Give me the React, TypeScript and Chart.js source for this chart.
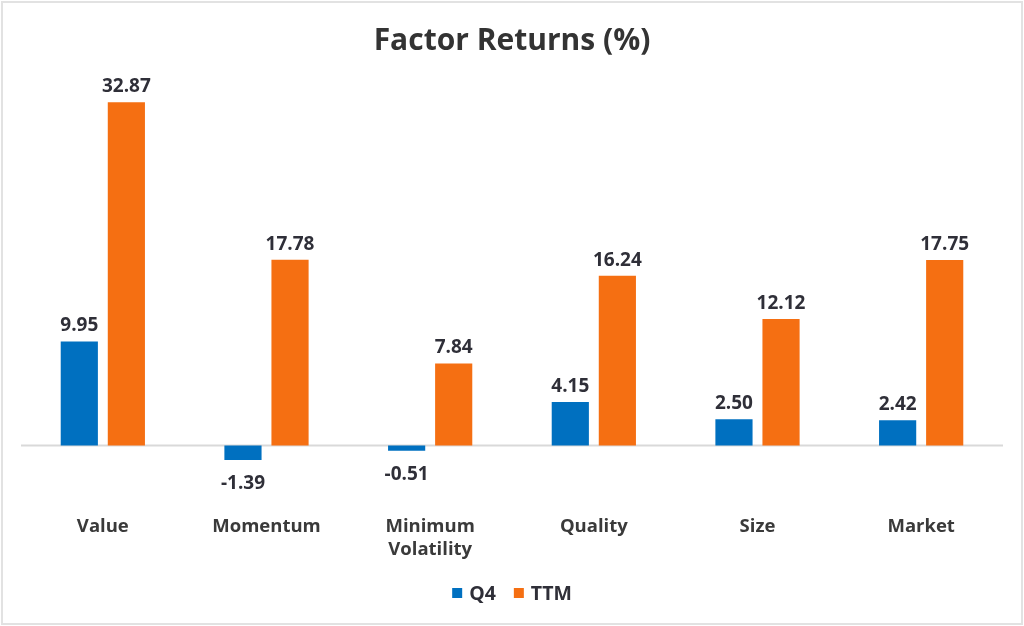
import React, { useEffect, useRef } from "react";
import { Chart, registerables } from "chart.js";

Chart.register(...registerables);

const categories: (string | string[])[] = ["Value", "Momentum", ["Minimum", "Volatility"], "Quality", "Size", "Market"];
const q4Values = [9.95, -1.39, -0.51, 4.15, 2.5, 2.42];
const ttmValues = [32.87, 17.78, 7.84, 16.24, 12.12, 17.75];
const seriesNames = ["Q4", "TTM"];

const BLUE = "#0070C0";
const ORANGE = "#F56F12";
const FONT = "'Open Sans', 'Noto Sans', sans-serif";

const frameAndZero = {
  id: "frameAndZero",
  beforeDraw(chart: any) {
    const { ctx, width, height } = chart;
    ctx.save();
    ctx.fillStyle = "#ffffff";
    ctx.fillRect(0, 0, width, height);
    ctx.strokeStyle = "#e2e2e2";
    ctx.lineWidth = 2;
    ctx.strokeRect(2, 2, width - 4, height - 4);
    ctx.restore();
  },
  beforeDatasetsDraw(chart: any) {
    const { ctx, chartArea } = chart;
    const y = chart.scales.y.getPixelForValue(0);
    ctx.save();
    ctx.strokeStyle = "#d9d9d9";
    ctx.lineWidth = 2;
    ctx.beginPath();
    ctx.moveTo(chartArea.left, y);
    ctx.lineTo(chartArea.right, y);
    ctx.stroke();
    ctx.restore();
  },
};

const dataLabels = {
  id: "dataLabels",
  afterDatasetsDraw(chart: any) {
    const { ctx } = chart;
    ctx.save();
    ctx.font = `bold 19px ${FONT}`;
    ctx.fillStyle = "#2f2f38";
    ctx.textAlign = "center";
    chart.data.datasets.forEach((ds: any, di: number) => {
      const meta = chart.getDatasetMeta(di);
      meta.data.forEach((bar: any, i: number) => {
        const v = ds.data[i] as number;
        const text = v.toFixed(2);
        if (v >= 0) {
          ctx.textBaseline = "bottom";
          ctx.fillText(text, bar.x, bar.y - 6);
        } else {
          ctx.textBaseline = "top";
          ctx.fillText(text, bar.x, bar.y + 14);
        }
      });
    });
    ctx.restore();
  },
};

const bottomLegend = {
  id: "bottomLegend",
  afterDraw(chart: any) {
    const { ctx, width } = chart;
    const box = 10;
    const gapText = 7;
    const gapItem = 18;
    const cy = 593;
    ctx.save();
    ctx.font = `bold 19.5px ${FONT}`;
    ctx.textBaseline = "middle";
    ctx.textAlign = "left";
    const items = chart.data.datasets.map((ds: any) => ({
      text: ds.label as string,
      color: ds.backgroundColor as string,
      w: ctx.measureText(ds.label).width,
    }));
    const total = items.reduce((s: number, it: any) => s + box + gapText + it.w, 0) + gapItem * (items.length - 1);
    let x = width / 2 - total / 2;
    items.forEach((it: any) => {
      ctx.fillStyle = it.color;
      ctx.fillRect(x, cy - box / 2, box, box);
      x += box + gapText;
      ctx.fillStyle = "#2f2f38";
      ctx.fillText(it.text, x, cy + 1);
      x += it.w + gapItem;
    });
    ctx.restore();
  },
};

export default function App() {
  const ref = useRef<HTMLCanvasElement>(null);
  useEffect(() => {
    document.body.style.margin = "0";
    const chart = new Chart(ref.current!, {
      type: "bar",
      data: {
        labels: categories,
        datasets: [
          { label: seriesNames[0], data: q4Values, backgroundColor: BLUE },
          { label: seriesNames[1], data: ttmValues, backgroundColor: ORANGE },
        ],
      },
      options: {
        animation: false,
        responsive: false,
        devicePixelRatio: 1,
        layout: { padding: { left: 21, right: 21, top: 0, bottom: 47 } },
        datasets: {
          bar: { categoryPercentage: 0.575, barPercentage: 0.79 },
        },
        scales: {
          x: {
            grid: { display: false, drawTicks: false },
            border: { display: false },
            ticks: {
              color: "#3a3a3a",
              font: { family: FONT, size: 18.5, weight: "bold", lineHeight: 1.28 },
              padding: 17,
              maxRotation: 0,
              autoSkip: false,
            },
          },
          y: {
            display: false,
            min: -5,
            max: 35,
          },
        },
        plugins: {
          title: {
            display: true,
            text: "Factor Returns (%)",
            color: "#333333",
            font: { family: FONT, size: 30, weight: "bold" },
            padding: { top: 23, bottom: 21 },
          },
          legend: { display: false },
          tooltip: { enabled: false },
        },
      },
      plugins: [frameAndZero, dataLabels, bottomLegend],
    });
    return () => chart.destroy();
  }, []);
  return <canvas ref={ref} width={1024} height={626} style={{ display: "block" }} />;
}
